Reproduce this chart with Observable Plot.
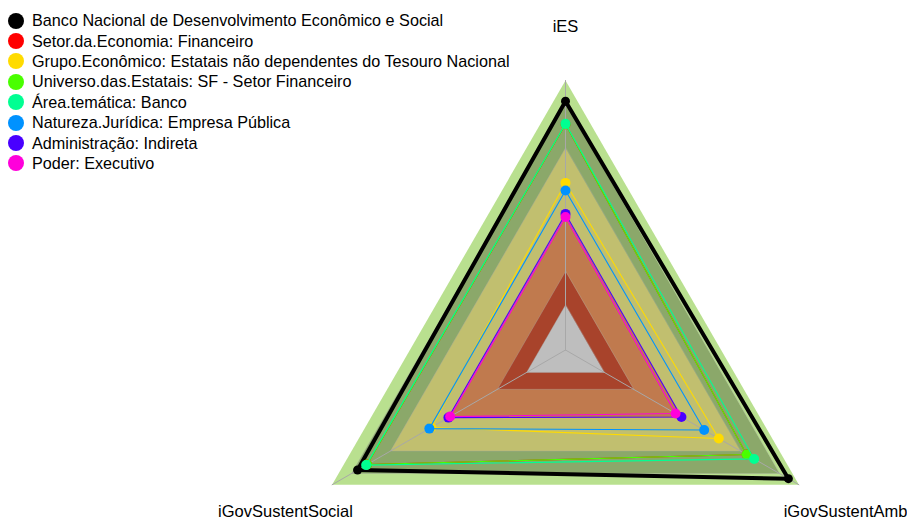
<!DOCTYPE html>
<html>
<head>
<meta charset="utf-8">
<script src="https://cdn.jsdelivr.net/npm/d3@7"></script>
<script src="https://cdn.jsdelivr.net/npm/@observablehq/plot@0.6"></script>
<style>
  html, body { margin: 0; padding: 0; background: #fff; }
  #wrap { position: relative; width: 907px; height: 521px; font-family: Arial, "Liberation Sans", sans-serif; }
  #legend { position: absolute; left: 8px; top: 10.5px; }
  .row { display: flex; align-items: center; height: 20.4px; font-size: 16.2px; color: #000; white-space: nowrap; }
  .sw { width: 16px; height: 16px; border-radius: 50%; margin-right: 8px; flex: none; }
</style>
</head>
<body>
<div id="wrap"><div id="chart"></div><div id="legend"></div></div>
<script>
// ---- data ----
const axes = ["iES", "iGovSustentSocial", "iGovSustentAmb"];
const series = [
  "Banco Nacional de Desenvolvimento Econômico e Social",
  "Setor.da.Economia: Financeiro",
  "Grupo.Econômico: Estatais não dependentes do Tesouro Nacional",
  "Universo.das.Estatais: SF - Setor Financeiro",
  "Área.temática: Banco",
  "Natureza.Jurídica: Empresa Pública",
  "Administração: Indireta",
  "Poder: Executivo"
];
const seriesColors = ["#000000", "#FF0000", "#FFDB00", "#49FF00", "#00FF92", "#0092FF", "#4900FF", "#FF00DB"];
const iES               = [0.908, 0.805, 0.544, 0.805, 0.807, 0.510, 0.406, 0.392];
const iGovSustentSocial = [0.869, 0.820, 0.490, 0.820, 0.825, 0.500, 0.402, 0.393];
const iGovSustentAmb    = [0.946, 0.731, 0.588, 0.731, 0.770, 0.513, 0.396, 0.366];
// background level bands (outer limit of each band)
const bandLimits = [1, 0.9, 0.7, 0.4, 0.15, 0];
const bandColors = ["#B9E08F", "#8BA86A", "#C1BF6F", "#C07A4E", "#A8432B", "#BEBEBE"];

// ---- geometry helpers ----
const nAx = axes.length;
const angle = i => Math.PI / 2 + 2 * Math.PI * i / nAx;
const rad = v => (1 + 5 * v) / 6;  // value -> radius (centre offset like fmsb)
const values = {iES, iGovSustentSocial, iGovSustentAmb};

const bands = bandLimits.map((lim, b) => ({lim, color: bandColors[b]}));
const bandPts = b => axes.map((a, i) => ({x: rad(b.lim) * Math.cos(angle(i)), y: rad(b.lim) * Math.sin(angle(i))}));

const spokes = axes.flatMap((a, i) => [{i, x: 0, y: 0}, {i, x: Math.cos(angle(i)), y: Math.sin(angle(i))}]);
const labels = axes.map((a, i) => ({a, x: 1.2 * Math.cos(angle(i)), y: 1.2 * Math.sin(angle(i))}));

const pts = s => axes.map((a, i) => {
  const r = rad(values[a][s]);
  return {s, x: r * Math.cos(angle(i)), y: r * Math.sin(angle(i))};
});

// ---- plot ----
const W = 907, H = 521, cx = 565, cy = 349.5, R = 269.5;
const marks = [];
bands.forEach((b, k) => {
  marks.push(Plot.line(bandPts(b), {x: "x", y: "y", curve: "linear-closed", fill: b.color,
    stroke: k === 0 ? "none" : "#a8a8a8", strokeWidth: 0.5, strokeOpacity: 0.7}));
});
marks.push(Plot.line(spokes, {x: "x", y: "y", z: "i", stroke: "#a8a8a8", strokeWidth: 1}));
series.forEach((name, s) => {
  const black = s === 0;
  marks.push(Plot.line(pts(s), {x: "x", y: "y", curve: "linear-closed", stroke: seriesColors[s], strokeWidth: black ? 4 : 1.1}));
  marks.push(Plot.dot(pts(s), {x: "x", y: "y", r: black ? 4.5 : 5, fill: seriesColors[s], stroke: "none"}));
});
marks.push(Plot.text(labels, {x: "x", y: "y", text: "a", fontSize: 16.5, fill: "#000", fontFamily: "Arial, 'Liberation Sans', sans-serif"}));

const chart = Plot.plot({
  width: W, height: H, margin: 0,
  x: {domain: [-cx / R, (W - cx) / R], axis: null},
  y: {domain: [-(H - cy) / R, cy / R], axis: null},
  style: {background: "#fff", overflow: "visible"},
  marks
});
document.getElementById("chart").appendChild(chart);

// ---- legend ----
const leg = document.getElementById("legend");
series.forEach((name, s) => {
  const row = document.createElement("div");
  row.className = "row";
  const sw = document.createElement("span");
  sw.className = "sw";
  sw.style.background = seriesColors[s];
  const t = document.createElement("span");
  t.textContent = name;
  row.appendChild(sw); row.appendChild(t);
  leg.appendChild(row);
});
</script>
</body>
</html>
